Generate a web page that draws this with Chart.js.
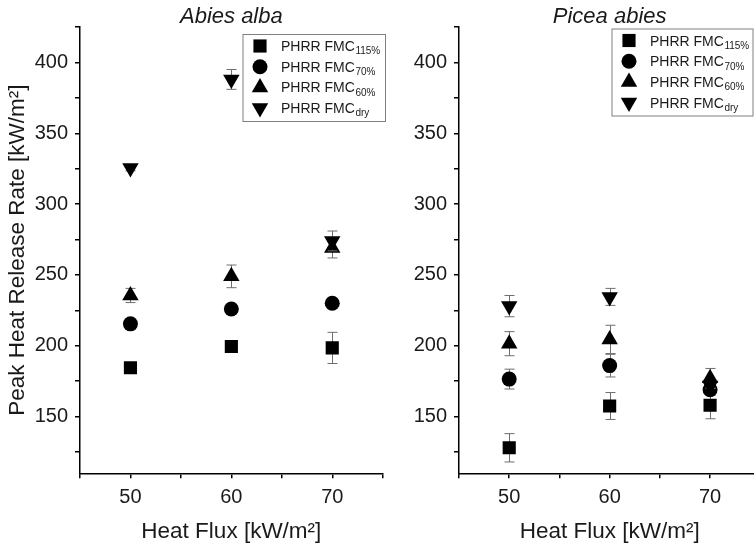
<!DOCTYPE html>
<html>
<head>
<meta charset="utf-8">
<title>Peak Heat Release Rate</title>
<script src="https://cdn.jsdelivr.net/npm/chart.js@4/dist/chart.umd.min.js"></script>
<style>
  html, body { margin: 0; padding: 0; background: #fff; overflow: hidden; width: 754px; height: 548px; }
  #abiesChart { position: absolute; left: 0; top: 0; }
  #piceaChart { position: absolute; left: 400px; top: 0; }
</style>
</head>
<body>
<canvas id="abiesChart" width="400" height="548"></canvas>
<canvas id="piceaChart" width="400" height="548"></canvas>
<script>
const FONT = "'Liberation Sans', Arial, Helvetica, sans-serif";
const TEXT = "#1a1a1a";

// Shared
const heatFlux = [50, 60, 70];
const seriesName = "PHRR FMC";
const seriesSub = ["115%", "70%", "60%", "dry"];
const pointStyles = ["rect", "circle", "triangle", "triangle"];
const pointRotations = [0, 0, 0, 180];
const pointSizes = [9.3, 7.5, 9.5, 9.5];

// Abies alba
const abies115 = [184.5, 199.5, 198.5];
const abies115Err = [3.5, 3, 11];
const abies70 = [215.5, 226, 230];
const abies70Err = [2, 2, 2];
const abies60 = [235.5, 249, 269];
const abies60Err = [5, 8, 7];
const abiesDry = [325.5, 388, 274];
const abiesDryErr = [2, 7, 7];

// Picea abies
const picea115 = [128, 157.5, 158];
const picea115Err = [10, 9.5, 9.5];
const picea70 = [176.5, 186, 169];
const picea70Err = [7, 8, 4];
const picea60 = [201.5, 204.5, 177];
const picea60Err = [8.5, 10, 7];
const piceaDry = [228, 234.5, 172];
const piceaDryErr = [7.5, 6, 2];

// Axis ticks (major ones get a label)
const xTicks = [45, 50, 55, 60, 65, 70, 75];
const xLabels = [50, 60, 70];
const yTicks = [125, 150, 175, 200, 225, 250, 275, 300, 325, 350, 375, 400, 425];
const yLabels = [150, 200, 250, 300, 350, 400];

function buildDatasets(values, errors) {
  return values.map((vals, s) => ({
    label: seriesName + seriesSub[s],
    data: heatFlux.map((x, i) => ({ x: x, y: vals[i] })),
    errors: errors[s],
    order: values.length - 1 - s, // first series drawn first, last on top
    showLine: false,
    pointStyle: pointStyles[s],
    pointRotation: pointRotations[s],
    pointRadius: pointSizes[s],
    pointBackgroundColor: "#000",
    pointBorderWidth: 0,
  }));
}

// Error bars, drawn just before each dataset's markers
const errorBars = {
  id: "errorBars",
  beforeDatasetDraw(chart, args) {
    const ds = chart.data.datasets[args.index];
    if (!ds.errors) return;
    const xs = chart.scales.x, ys = chart.scales.y, ctx = chart.ctx;
    ctx.save();
    ctx.strokeStyle = "#6e6e6e";
    ctx.lineWidth = 1;
    ds.data.forEach((p, i) => {
      const px = Math.round(xs.getPixelForValue(p.x)) + 0.5;
      const top = ys.getPixelForValue(p.y + ds.errors[i]);
      const bot = ys.getPixelForValue(p.y - ds.errors[i]);
      ctx.beginPath();
      ctx.moveTo(px, top); ctx.lineTo(px, bot);
      ctx.moveTo(px - 5, top); ctx.lineTo(px + 5, top);
      ctx.moveTo(px - 5, bot); ctx.lineTo(px + 5, bot);
      ctx.stroke();
    });
    ctx.restore();
  }
};

// Panel title + boxed legend with subscripts
const panelDecor = {
  id: "panelDecor",
  afterDraw(chart, args, opts) {
    const ctx = chart.ctx, area = chart.chartArea;
    ctx.save();
    ctx.fillStyle = TEXT;
    ctx.font = "italic 22px " + FONT;
    ctx.textAlign = "center";
    ctx.textBaseline = "alphabetic";
    ctx.fillText(opts.title, (area.left + area.right) / 2, 22.5);

    const lg = opts.legend;
    ctx.strokeStyle = "#808080";
    ctx.lineWidth = 1;
    ctx.fillStyle = "#fff";
    ctx.fillRect(lg.x, lg.y, lg.w, lg.h);
    ctx.strokeRect(lg.x + 0.5, lg.y + 0.5, lg.w, lg.h);

    ctx.textAlign = "left";
    chart.data.datasets.forEach((ds, s) => {
      const rowY = lg.y + 12 + s * 20.7;
      ctx.fillStyle = "#000";
      Chart.helpers.drawPoint(ctx, {
        pointStyle: pointStyles[s],
        rotation: pointRotations[s],
        radius: pointSizes[s],
        borderWidth: 0
      }, lg.x + 17.5, rowY);
      ctx.fillStyle = TEXT;
      ctx.font = "14px " + FONT;
      ctx.fillText(seriesName, lg.x + 38.5, rowY + 5);
      const w = ctx.measureText(seriesName).width;
      ctx.font = "10px " + FONT;
      ctx.fillText(seriesSub[s], lg.x + 38.5 + w + 0.5, rowY + 8.3);
    });
    ctx.restore();
  }
};

function makeOptions(cfg) {
  return {
    responsive: false,
    animation: false,
    events: [],
    layout: { padding: { top: 27, left: 0, bottom: 0, right: cfg.padRight } },
    plugins: {
      legend: { display: false },
      tooltip: { enabled: false },
      panelDecor: { title: cfg.title, legend: cfg.legend }
    },
    scales: {
      x: {
        type: "linear",
        min: 45,
        max: 75,
        afterBuildTicks: (scale) => { scale.ticks = xTicks.map(v => ({ value: v })); },
        afterFit: (scale) => { scale.height = 74.7; },
        ticks: {
          autoSkip: false,
          maxRotation: 0,
          padding: 7,
          color: TEXT,
          font: { family: FONT, size: 20 },
          callback: (v) => xLabels.includes(v) ? String(v) : ""
        },
        grid: { drawOnChartArea: false, drawTicks: true, tickLength: 5, color: "#000", lineWidth: 1.5 },
        border: { display: true, color: "#000", width: 1.5 },
        title: {
          display: true,
          text: "Heat Flux [kW/m²]",
          color: TEXT,
          font: { family: FONT, size: 22.5 },
          padding: { top: 0, bottom: 3 }
        }
      },
      y: {
        type: "linear",
        min: 110,
        max: 425,
        afterBuildTicks: (scale) => { scale.ticks = yTicks.map(v => ({ value: v })); },
        afterFit: (scale) => { scale.width = cfg.yWidth; },
        ticks: {
          autoSkip: false,
          padding: 7,
          color: TEXT,
          font: { family: FONT, size: 20 },
          callback: (v) => yLabels.includes(v) ? String(v) : ""
        },
        grid: { drawOnChartArea: false, drawTicks: true, tickLength: 5, color: "#000", lineWidth: 1.5 },
        border: { display: true, color: "#000", width: 1.5 },
        title: {
          display: cfg.yTitle,
          text: "Peak Heat Release Rate [kW/m²]",
          color: TEXT,
          font: { family: FONT, size: 22.5 },
          padding: { top: 4, bottom: 0 }
        }
      }
    }
  };
}

new Chart(document.getElementById("abiesChart"), {
  type: "scatter",
  data: {
    datasets: buildDatasets(
      [abies115, abies70, abies60, abiesDry],
      [abies115Err, abies70Err, abies60Err, abiesDryErr]
    )
  },
  options: makeOptions({
    title: "Abies alba",
    yTitle: true,
    yWidth: 80,
    padRight: 17.3,
    legend: { x: 242.5, y: 34, w: 142.5, h: 87 }
  }),
  plugins: [errorBars, panelDecor]
});

new Chart(document.getElementById("piceaChart"), {
  type: "scatter",
  data: {
    datasets: buildDatasets(
      [picea115, picea70, picea60, piceaDry],
      [picea115Err, picea70Err, picea60Err, piceaDryErr]
    )
  },
  options: makeOptions({
    title: "Picea abies",
    yTitle: false,
    yWidth: 59,
    padRight: 39.7,
    legend: { x: 211.5, y: 28.5, w: 141, h: 87 }
  }),
  plugins: [errorBars, panelDecor]
});
</script>
</body>
</html>
